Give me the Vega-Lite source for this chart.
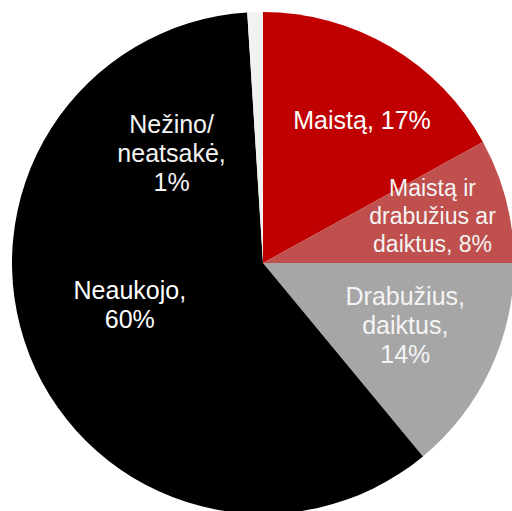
{
  "$schema": "https://vega.github.io/schema/vega-lite/v6.json",
  "width": 526,
  "height": 526,
  "autosize": "none",
  "padding": 0,
  "background": "white",
  "data": {"values": [
    {"cat": "Maistą", "value": 17, "label": "Maistą, 17%", "ord": 1},
    {"cat": "Maistą ir drabužius ar daiktus", "value": 8, "label": "Maistą ir\ndrabužius ar\ndaiktus, 8%", "ord": 2},
    {"cat": "Drabužius, daiktus", "value": 14, "label": "Drabužius,\ndaiktus,\n14%", "ord": 3},
    {"cat": "Neaukojo", "value": 60, "label": "Neaukojo,\n60%", "ord": 4},
    {"cat": "Nežino/neatsakė", "value": 1, "label": "Nežino/\nneatsakė,\n1%", "ord": 5}
  ]},
  "encoding": {
    "theta": {"field": "value", "type": "quantitative", "stack": true},
    "order": {"field": "ord", "type": "quantitative"}
  },
  "layer": [
    {
      "mark": {"type": "arc", "outerRadius": 251},
      "encoding": {
        "color": {
          "field": "cat", "type": "nominal", "sort": null, "legend": null,
          "scale": {
            "domain": ["Maistą", "Maistą ir drabužius ar daiktus", "Drabužius, daiktus", "Neaukojo", "Nežino/neatsakė"],
            "range": ["#C00000", "#C0504D", "#A6A6A6", "#000000", "#F2F2F2"]
          }
        }
      }
    },
    {
      "mark": {"type": "text", "radius": 173, "dx": 11, "dy": 7, "font": "Liberation Sans", "fontSize": 25, "lineHeight": 29, "lineBreak": "\n", "fill": "#FFFFFF", "align": "center", "baseline": "middle"},
      "encoding": {"text": {"condition": {"test": "datum.ord === 1", "field": "label"}, "value": ""}}
    },
    {
      "mark": {"type": "text", "radius": 175, "dx": 0, "dy": -30, "font": "Liberation Sans", "fontSize": 23, "lineHeight": 28, "lineBreak": "\n", "fill": "#F4F4F4", "align": "center", "baseline": "middle"},
      "encoding": {"text": {"condition": {"test": "datum.ord === 2", "field": "label"}, "value": ""}}
    },
    {
      "mark": {"type": "text", "radius": 155, "dx": 2, "dy": -32, "font": "Liberation Sans", "fontSize": 25, "lineHeight": 29, "lineBreak": "\n", "fill": "#F4F4F4", "align": "center", "baseline": "middle"},
      "encoding": {"text": {"condition": {"test": "datum.ord === 3", "field": "label"}, "value": ""}}
    },
    {
      "mark": {"type": "text", "radius": 140, "dx": -3, "dy": -24, "font": "Liberation Sans", "fontSize": 25, "lineHeight": 29, "lineBreak": "\n", "fill": "#FFFFFF", "align": "center", "baseline": "middle"},
      "encoding": {"text": {"condition": {"test": "datum.ord === 4", "field": "label"}, "value": ""}}
    },
    {
      "mark": {"type": "text", "radius": 109, "dx": -88, "dy": -29, "font": "Liberation Sans", "fontSize": 25, "lineHeight": 29, "lineBreak": "\n", "fill": "#F4F4F4", "align": "center", "baseline": "middle"},
      "encoding": {"text": {"condition": {"test": "datum.ord === 5", "field": "label"}, "value": ""}}
    }
  ],
  "config": {"view": {"stroke": null}}
}
